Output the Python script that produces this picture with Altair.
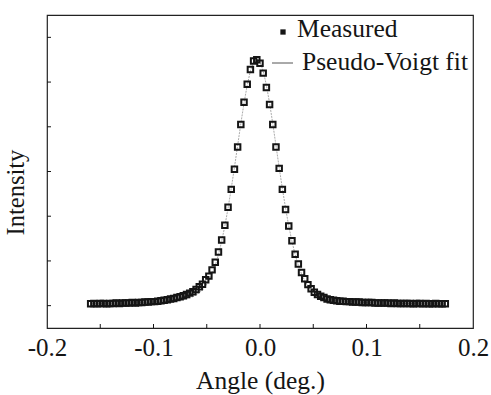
import altair as alt
import pandas as pd

angles = [-0.159, -0.156, -0.153, -0.150, -0.147, -0.144, -0.141, -0.138, -0.135, -0.132,
          -0.129, -0.126, -0.123, -0.120, -0.117, -0.114, -0.111, -0.108, -0.105, -0.102,
          -0.099, -0.096, -0.093, -0.090, -0.087, -0.084, -0.081, -0.078, -0.075, -0.072,
          -0.069, -0.066, -0.063, -0.060, -0.057, -0.054, -0.051, -0.048, -0.045, -0.042,
          -0.039, -0.036, -0.033, -0.030, -0.027, -0.024, -0.021, -0.018, -0.015, -0.012,
          -0.009, -0.006, -0.003, 0.000, 0.003, 0.006, 0.009, 0.012, 0.015, 0.018,
          0.021, 0.024, 0.027, 0.030, 0.033, 0.036, 0.039, 0.042, 0.045, 0.048,
          0.051, 0.054, 0.057, 0.060, 0.063, 0.066, 0.069, 0.072, 0.075, 0.078,
          0.081, 0.084, 0.087, 0.090, 0.093, 0.096, 0.099, 0.102, 0.105, 0.108,
          0.111, 0.114, 0.117, 0.120, 0.123, 0.126, 0.129, 0.132, 0.135, 0.138,
          0.141, 0.144, 0.147, 0.150, 0.153, 0.156, 0.159, 0.162, 0.165, 0.168,
          0.171, 0.174]

measured = [0.04, 0.05, 0.04, 0.05, 0.05, 0.04, 0.05, 0.05, 0.06, 0.05,
            0.06, 0.06, 0.06, 0.07, 0.06, 0.07, 0.07, 0.08, 0.08, 0.09,
            0.09, 0.10, 0.11, 0.12, 0.13, 0.15, 0.16, 0.18, 0.20, 0.22,
            0.25, 0.28, 0.31, 0.36, 0.42, 0.48, 0.58, 0.66, 0.80, 0.97,
            1.20, 1.47, 1.80, 2.20, 2.60, 3.05, 3.55, 4.05, 4.55, 4.95,
            5.28, 5.47, 5.50,
            5.42, 5.20, 4.88, 4.50, 4.05, 3.55, 3.07, 2.60, 2.15, 1.78,
            1.45, 1.15, 0.93, 0.74, 0.60, 0.47, 0.38, 0.30, 0.25, 0.21,
            0.18, 0.15, 0.13, 0.12, 0.11, 0.10, 0.10, 0.09, 0.09, 0.08,
            0.08, 0.08, 0.07, 0.07, 0.07, 0.07, 0.06, 0.06, 0.06, 0.06,
            0.06, 0.05, 0.06, 0.05, 0.05, 0.05, 0.05, 0.05, 0.04, 0.05,
            0.05, 0.04, 0.05, 0.04, 0.04, 0.05, 0.04, 0.04, 0.04]

fit = [0.043, 0.044, 0.045, 0.046, 0.047, 0.049, 0.050, 0.051, 0.052, 0.054,
       0.055, 0.057, 0.059, 0.061, 0.063, 0.065, 0.068, 0.070, 0.073, 0.076,
       0.080, 0.083, 0.087, 0.092, 0.097, 0.10, 0.11, 0.12, 0.13, 0.14,
       0.15, 0.17, 0.20, 0.24, 0.29, 0.35, 0.44, 0.56, 0.71, 0.90,
       1.14, 1.44, 1.78, 2.18, 2.62, 3.09, 3.58, 4.07, 4.53, 4.93,
       5.25, 5.45, 5.52,
       5.45, 5.25, 4.93, 4.53, 4.07, 3.58, 3.09, 2.62, 2.18, 1.78,
       1.44, 1.14, 0.90, 0.71, 0.56, 0.44, 0.35, 0.29, 0.24, 0.20,
       0.17, 0.15, 0.14, 0.13, 0.12, 0.11, 0.10, 0.097, 0.092, 0.087,
       0.083, 0.080, 0.076, 0.073, 0.070, 0.068, 0.065, 0.063, 0.061, 0.059,
       0.057, 0.055, 0.054, 0.052, 0.051, 0.050, 0.049, 0.047, 0.046, 0.045,
       0.044, 0.043, 0.042, 0.041, 0.041, 0.040, 0.039, 0.039, 0.038]

x_ticks = [-0.2, -0.1, 0.0, 0.1, 0.2]
x_minor_ticks = [-0.15, -0.1, -0.05, 0.0, 0.05, 0.1, 0.15]
y_ticks = [0, 1, 2, 3, 4, 5, 6]

FONT = "Liberation Serif"
INK = "#151515"

df = pd.DataFrame({"angle": angles, "measured": measured, "fit": fit})

xscale = alt.Scale(domain=[-0.2, 0.2], nice=False, zero=False)
yscale = alt.Scale(domain=[-0.5, 6.5], nice=False, zero=False)

x_enc = alt.X(
    "angle:Q", scale=xscale,
    axis=alt.Axis(
        title="Angle (deg.)", values=x_ticks, ticks=False, domain=False, grid=False,
        labelExpr="datum.value < 0 ? '-' + format(-datum.value, '.1f') : format(datum.value, '.1f')",
        labelFont=FONT, labelFontSize=25, labelColor=INK, labelPadding=7,
        labelFlush=False,
        titleFont=FONT, titleFontSize=25.5, titleFontWeight="normal", titleColor=INK,
        titlePadding=8,
    ),
)
y_axis = alt.Axis(
    title="Intensity", labels=False, ticks=False, domain=False, grid=False,
    titleFont=FONT, titleFontSize=24.5, titleFontWeight="normal", titleColor=INK,
    titlePadding=19, titleY=177,
)

points = alt.Chart(df).mark_point(
    shape="square", filled=False, size=30, strokeWidth=2, color=INK, opacity=1
).encode(x=x_enc, y=alt.Y("measured:Q", scale=yscale, axis=y_axis))

line = alt.Chart(df).mark_line(
    color="#a0a0a0", strokeWidth=0.9, strokeDash=[2, 1]
).encode(x=alt.X("angle:Q", scale=xscale), y=alt.Y("fit:Q", scale=yscale))

xt = alt.Chart(pd.DataFrame({"t": x_minor_ticks})).mark_rule(
    color=INK, strokeWidth=1
).encode(x=alt.X("t:Q", scale=xscale), y=alt.value(313), y2=alt.value(309))

yt = alt.Chart(pd.DataFrame({"t": y_ticks})).mark_rule(
    color=INK, strokeWidth=1
).encode(y=alt.Y("t:Q", scale=yscale), x=alt.value(0), x2=alt.value(4))

leg_sq = alt.Chart(pd.DataFrame({"a": [0]})).mark_square(
    size=28, color=INK, opacity=1
).encode(x=alt.value(236), y=alt.value(17))

leg_line = alt.Chart(pd.DataFrame({"a": [0]})).mark_rule(
    color="#555555", strokeWidth=1
).encode(x=alt.value(225), x2=alt.value(246), y=alt.value(48))

leg_text = alt.Chart(pd.DataFrame({
    "label": ["Measured", "Pseudo-Voigt fit"],
    "px": [250, 255],
    "py": [22, 55],
})).mark_text(
    font=FONT, fontSize=25.5, color=INK, align="left", baseline="alphabetic"
).encode(x=alt.X("px:Q", scale=None), y=alt.Y("py:Q", scale=None), text="label:N")

chart = alt.layer(line, points, xt, yt, leg_sq, leg_line, leg_text).properties(
    width=426, height=313,
    padding={"left": 47, "top": 15, "right": 18, "bottom": 67},
    autosize=alt.AutoSizeParams(type="none"),
).configure_view(stroke="#222222", strokeWidth=1.2)

chart.save("out.html", embed_options={"renderer": "svg", "actions": False})
